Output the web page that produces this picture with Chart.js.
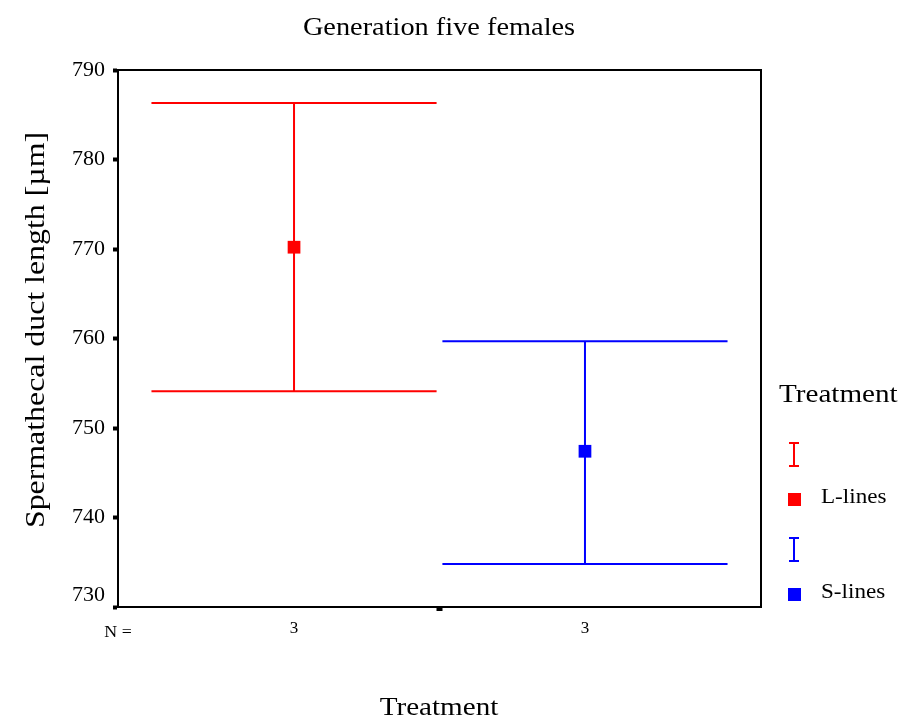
<!DOCTYPE html>
<html>
<head>
<meta charset="utf-8">
<script src="https://cdn.jsdelivr.net/npm/chart.js@4/dist/chart.umd.min.js"></script>
<style>
  html, body { margin: 0; padding: 0; background: #fff; }
  #wrap { width: 903px; height: 719px; }
</style>
</head>
<body>
<div id="wrap"><canvas id="errChart"></canvas></div>
<script>
// group names, N per group, and the error bar values
const categories = ['L-lines', 'S-lines'];
const nLabels = ['3', '3'];
const means = [770.2, 747.4];
const upper = [786.3, 759.7];
const lower = [754.1, 734.8];
const seriesColors = ['#ff0000', '#0000ff'];

const chartTitle = 'Generation five females';
const yTitle = 'Spermathecal duct length [\u00b5m]';
const xTitle = 'Treatment';
const legendTitle = 'Treatment';
const yMin = 730, yMax = 790, yStep = 10;

const serif = '"Liberation Serif", "Times New Roman", serif';
const capHalf = 0.49; // half width of the whisker caps, in x units

// the original text is a bit wider than Times, so stretch it sideways
function wideText(ctx, text, x, y, size, sx, align) {
    ctx.save();
    ctx.translate(x, y);
    ctx.scale(sx, 1);
    ctx.font = size + 'px ' + serif;
    ctx.textAlign = align || 'center';
    ctx.textBaseline = 'alphabetic';
    ctx.fillText(text, 0, 0);
    ctx.restore();
}

// error bars + frame + all the loose text
const errorBarPlugin = {
    id: 'errorBars',
    afterDatasetsDraw(chart) {
        const ctx = chart.ctx;
        const xs = chart.scales.x;
        const ys = chart.scales.y;

        ctx.save();
        categories.forEach((cat, i) => {
            const x = xs.getPixelForValue(i + 1);
            const xl = xs.getPixelForValue(i + 1 - capHalf);
            const xr = xs.getPixelForValue(i + 1 + capHalf);
            const yu = ys.getPixelForValue(upper[i]);
            const yl = ys.getPixelForValue(lower[i]);
            ctx.strokeStyle = seriesColors[i];
            ctx.lineWidth = 2;
            ctx.beginPath();
            ctx.moveTo(x, yu); ctx.lineTo(x, yl);
            ctx.moveTo(xl, yu); ctx.lineTo(xr, yu);
            ctx.moveTo(xl, yl); ctx.lineTo(xr, yl);
            ctx.stroke();
        });
        ctx.restore();
    },
    afterDraw(chart) {
        const ctx = chart.ctx;
        const xs = chart.scales.x;
        const ys = chart.scales.y;
        const area = chart.chartArea;

        ctx.save();
        // plot frame
        ctx.strokeStyle = '#000';
        ctx.lineWidth = 2;
        ctx.strokeRect(area.left, area.top, area.right - area.left, area.bottom - area.top);

        // bottom y label sits a little above its tick in the original
        ctx.fillStyle = '#000';
        ctx.font = '22px ' + serif;
        ctx.textAlign = 'right';
        ctx.textBaseline = 'middle';
        ctx.fillText(String(yMin), 105, ys.getPixelForValue(yMin) - 12);

        // x tick between the groups
        const xm = xs.getPixelForValue(1.5);
        ctx.fillRect(xm - 3, area.bottom + 1, 6, 3);

        // N = row
        wideText(ctx, 'N =', area.left, 637, 17, 1.05);
        nLabels.forEach((n, i) => {
            wideText(ctx, n, xs.getPixelForValue(i + 1), 633, 17, 1.0);
        });

        // title and x axis title
        wideText(ctx, chartTitle, 439, 35, 26, 1.09);
        wideText(ctx, xTitle, 439, 715, 26, 1.12);

        // y axis title
        ctx.save();
        ctx.translate(44, 330);
        ctx.rotate(-Math.PI / 2);
        wideText(ctx, yTitle, 0, 0, 27, 1.18);
        ctx.restore();

        // legend
        wideText(ctx, legendTitle, 779, 402, 26, 1.12, 'left');

        const rowTop = [443, 538];
        categories.forEach((cat, i) => {
            const y0 = rowTop[i];
            ctx.strokeStyle = seriesColors[i];
            ctx.lineWidth = 2;
            ctx.beginPath();
            ctx.moveTo(794, y0); ctx.lineTo(794, y0 + 23);
            ctx.moveTo(789, y0); ctx.lineTo(799, y0);
            ctx.moveTo(789, y0 + 23); ctx.lineTo(799, y0 + 23);
            ctx.stroke();
            ctx.fillStyle = seriesColors[i];
            ctx.fillRect(788, y0 + 50, 13, 13);
            ctx.fillStyle = '#000';
            wideText(ctx, cat, 821, y0 + 60, 21, 1.1, 'left');
        });
        ctx.restore();
    }
};

const datasets = categories.map((cat, i) => ({
    label: cat,
    data: [{ x: i + 1, y: means[i] }],
    pointStyle: 'rect',
    pointRadius: 9,
    pointHoverRadius: 9,
    backgroundColor: seriesColors[i],
    borderColor: seriesColors[i],
    borderWidth: 0,
    showLine: false
}));

new Chart(document.getElementById('errChart'), {
    type: 'scatter',
    data: { datasets: datasets },
    options: {
        responsive: true,
        maintainAspectRatio: false,
        animation: false,
        layout: { padding: { left: 0, top: 70, right: 142, bottom: 112 } },
        plugins: {
            legend: { display: false },
            title: { display: false },
            tooltip: { enabled: false }
        },
        scales: {
            x: {
                type: 'linear',
                display: false,
                min: 0.395,
                max: 2.605
            },
            y: {
                type: 'linear',
                position: 'left',
                min: yMin,
                max: yMax,
                afterFit(scale) { scale.width = 118; },
                ticks: {
                    stepSize: yStep,
                    color: '#000',
                    padding: 8,
                    font: { family: serif, size: 22 },
                    // bottom label is drawn by the plugin, slightly raised
                    callback: (v) => (v === yMin ? '' : v)
                },
                grid: {
                    drawOnChartArea: false,
                    drawTicks: true,
                    tickLength: 5,
                    tickWidth: 4,
                    tickColor: '#000'
                },
                border: { display: true, color: '#000', width: 2 }
            }
        }
    },
    plugins: [errorBarPlugin]
});
</script>
</body>
</html>
